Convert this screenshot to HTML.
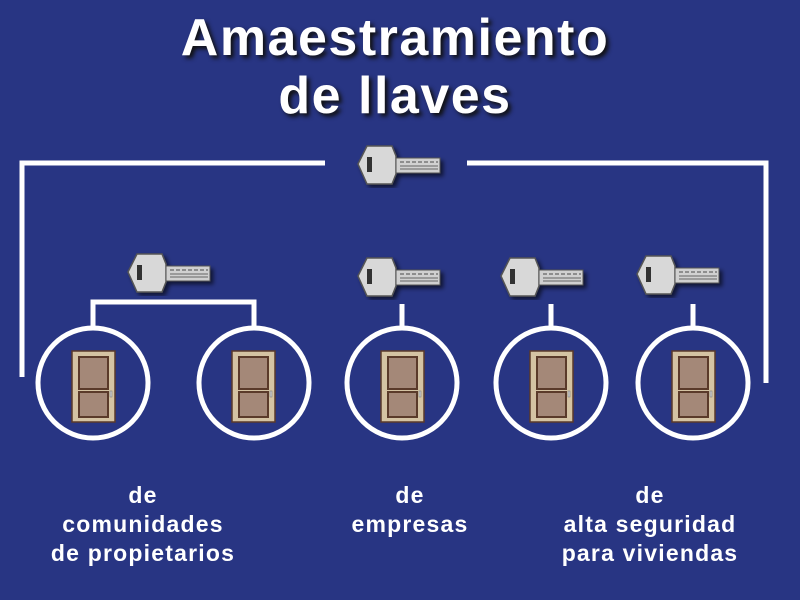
<!DOCTYPE html>
<html><head><meta charset="utf-8"><style>
body{margin:0;width:800px;height:600px;background:#283583;overflow:hidden;font-family:"Liberation Sans",sans-serif}
.t{position:absolute;left:0;width:790px;text-align:center;color:#fff;font-weight:bold;font-size:52px;text-shadow:3px 3px 4px #111;letter-spacing:1.5px}
.l{position:absolute;color:#fff;font-weight:bold;font-size:23px;text-align:center;line-height:29px;width:280px;letter-spacing:1.2px}
</style></head><body>
<svg width="800" height="600" style="position:absolute;left:0;top:0">
<defs>
<filter id="sh"><feDropShadow dx="3" dy="3" stdDeviation="2" flood-color="#000" flood-opacity="0.6"/></filter>
<g id="key" filter="url(#sh)">
<polygon points="0,18 9,0 34,0 38,10 38,28 34,38 9,38" fill="#d8d8d8" stroke="#555" stroke-width="1.5"/>
<rect x="38" y="12" width="44" height="15" fill="#d0d0d0" stroke="#555" stroke-width="1"/>
<line x1="42" y1="16" x2="80" y2="16" stroke="#777" stroke-width="1.5" stroke-dasharray="4,2"/>
<line x1="42" y1="20" x2="80" y2="20" stroke="#888" stroke-width="1.5"/>
<line x1="42" y1="23" x2="80" y2="23" stroke="#888" stroke-width="1.5"/>
<rect x="9" y="11" width="5" height="15" fill="#333"/>
</g>
<g id="door">
<rect x="0" y="0" width="43" height="71" fill="#d4c3a3" stroke="#5a3a2a" stroke-width="1.5"/>
<rect x="7" y="6" width="29" height="32" fill="#a48878" stroke="#5a3a2a" stroke-width="2"/>
<rect x="7" y="41" width="29" height="25" fill="#a48878" stroke="#5a3a2a" stroke-width="2"/>
<rect x="38" y="40" width="2" height="6" fill="#ccc" stroke="#777" stroke-width="0.5"/>
</g>
</defs>
<g stroke="#fff" stroke-width="5" fill="none">
<polyline points="22,377 22,163 325,163"/>
<polyline points="467,163 766,163 766,383"/>
<polyline points="93,328 93,302 254,302 254,328"/>
<line x1="402" y1="304" x2="402" y2="328"/>
<line x1="551" y1="304" x2="551" y2="328"/>
<line x1="693" y1="304" x2="693" y2="328"/>
<circle cx="93" cy="383" r="55"/>
<circle cx="254" cy="383" r="55"/>
<circle cx="402" cy="383" r="55"/>
<circle cx="551" cy="383" r="55"/>
<circle cx="693" cy="383" r="55"/>
</g>
<use href="#key" x="358" y="146"/>
<use href="#key" x="128" y="254"/>
<use href="#key" x="358" y="258"/>
<use href="#key" x="501" y="258"/>
<use href="#key" x="637" y="256"/>
<use href="#door" x="72" y="351"/>
<use href="#door" x="232" y="351"/>
<use href="#door" x="381" y="351"/>
<use href="#door" x="530" y="351"/>
<use href="#door" x="672" y="351"/>
</svg>
<div class="t" style="top:8px">Amaestramiento</div>
<div class="t" style="top:66px">de llaves</div>
<div class="l" style="left:3px;top:481px">de<br>comunidades<br>de propietarios</div>
<div class="l" style="left:270px;top:481px">de<br>empresas</div>
<div class="l" style="left:510px;top:481px">de<br>alta seguridad<br>para viviendas</div>
</body></html>
